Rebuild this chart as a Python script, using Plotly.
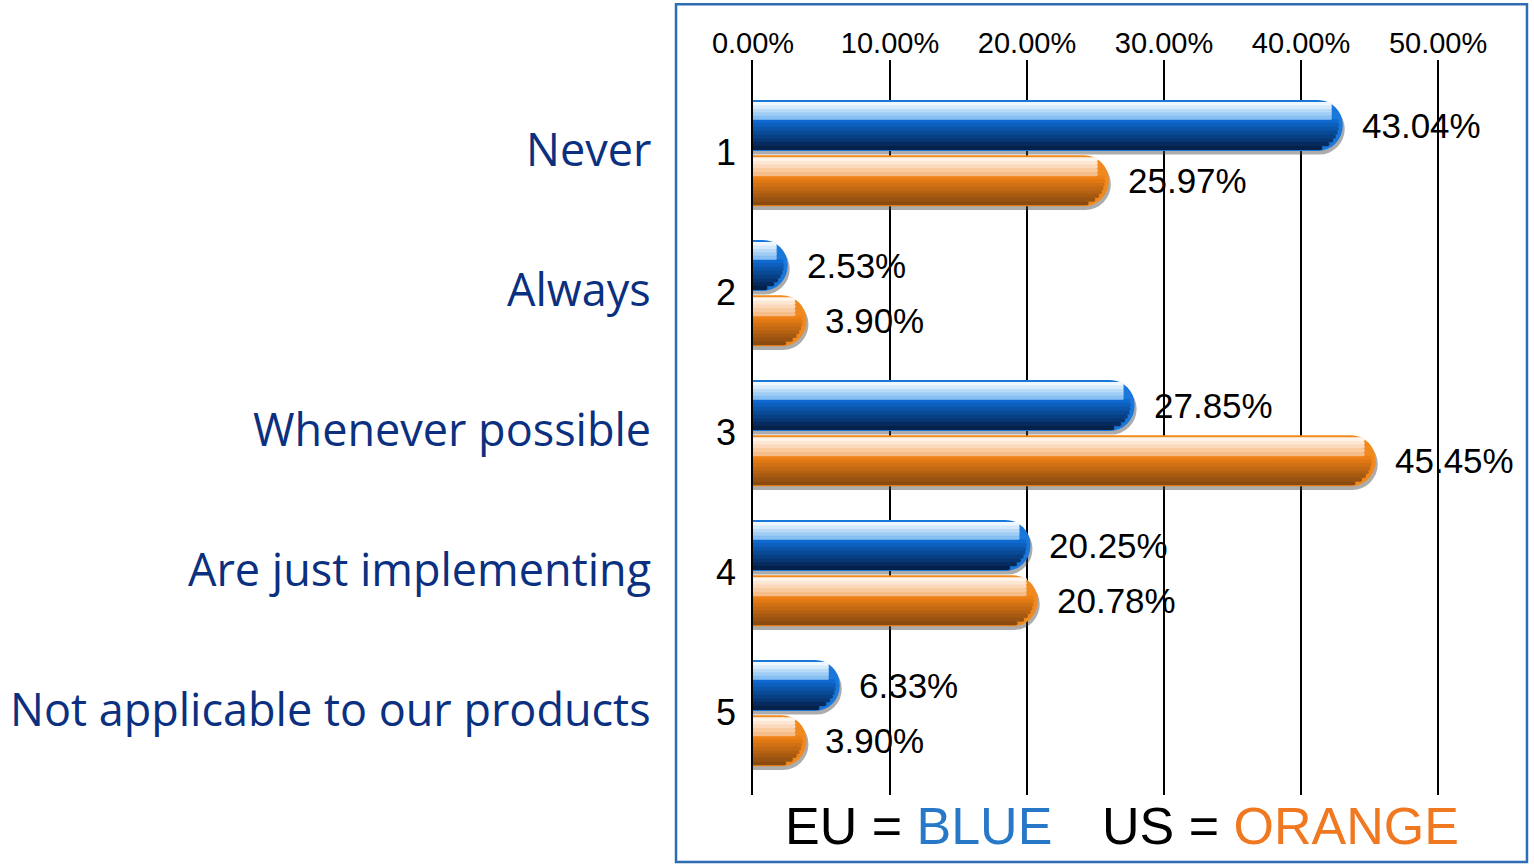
import math
import plotly.graph_objects as go

categories = [1, 2, 3, 4, 5]
category_names = ["Never", "Always", "Whenever possible", "Are just implementing",
                  "Not applicable to our products"]
eu_values = [43.04, 2.53, 27.85, 20.25, 6.33]
us_values = [25.97, 3.90, 45.45, 20.78, 3.90]
x_ticks = [0, 10, 20, 30, 40, 50]

T = 0.365          # bar thickness (category units)
BASE = -3.0        # hidden start so the left end stays square
PX_PER_X = 13.7    # pixels per percent (for styling insets)
R_PX = 25.5        # end-cap radius in px

series = [
    dict(vals=eu_values, start=-0.375, rim="#1a78da", shadow="rgba(70,70,70,0.45)",
         body=((0.38, "#0e6ad0"), (0.97, "#04214c")),
         hl=((0.04, "#eef7ff"), (0.38, "#86bff2"))),
    dict(vals=us_values, start=0.02, rim="#f08a1e", shadow="rgba(70,70,70,0.45)",
         body=((0.40, "#ee8015"), (0.97, "#8a4a10")),
         hl=((0.04, "#fff4ea"), (0.40, "#f7bd88"))),
]

fig = go.Figure()


def hex2rgb(h):
    h = h.lstrip("#")
    return [int(h[i:i + 2], 16) for i in (0, 2, 4)]


def mix(c1, c2, t):
    a, b = hex2rgb(c1), hex2rgb(c2)
    return "rgb(%d,%d,%d)" % tuple(round(a[i] + (b[i] - a[i]) * t) for i in range(3))


def add_layer(vals, a, b, color, inset, start):
    fig.add_trace(go.Bar(
        orientation="h",
        y=categories,
        x=[v - BASE - inset for v in vals],
        base=BASE,
        offset=start + a * T,
        width=(b - a) * T,
        marker=dict(color=color, line=dict(width=0)),
        hoverinfo="skip",
        showlegend=False,
    ))


def cap_inset(a, b, extra):
    d = max(abs(a - 0.5), abs(b - 0.5)) * 2 * R_PX
    d = min(d, R_PX)
    return (R_PX - math.sqrt(R_PX ** 2 - d ** 2)) / PX_PER_X + extra


NB = 8
for s in series:
    add_layer(s["vals"], 0.07, 1.07, s["shadow"], -0.15, s["start"])
    add_layer(s["vals"], 0.0, 1.0, s["rim"], 0.0, s["start"])
    (b0, cb0), (b1, cb1) = s["body"]
    for i in range(NB):
        a = b0 + (b1 - b0) * i / NB
        b = b0 + (b1 - b0) * (i + 1) / NB
        add_layer(s["vals"], a, b + 0.01, mix(cb0, cb1, i / (NB - 1)),
                  cap_inset(a, b, 0.25), s["start"])
    (h0, ch0), (h1, ch1) = s["hl"]
    NH = 5
    for i in range(NH):
        a = h0 + (h1 - h0) * i / NH
        b = h0 + (h1 - h0) * (i + 1) / NH
        add_layer(s["vals"], a, b + 0.01, mix(ch0, ch1, i / (NH - 1)),
                  0.8, s["start"])

annotations = []
for s in series:
    for cat, v in zip(categories, s["vals"]):
        annotations.append(dict(
            x=v, y=cat + s["start"] + T / 2, xref="x", yref="y",
            text=f"{v:.2f}%", showarrow=False, xanchor="left", yanchor="middle",
            xshift=17, font=dict(family="Arial", size=35, color="black")))

for cat, name in zip(categories, category_names):
    annotations.append(dict(
        x=-0.1315, y=cat - 0.03, xref="paper", yref="y", text=name,
        showarrow=False, xanchor="right", yanchor="middle",
        font=dict(family="Open Sans", size=45, color="#0b3080")))

annotations.append(dict(
    x=0.0395, y=-0.042, xref="paper", yref="paper",
    text="EU = <span style='color:#2878c8'>BLUE</span>",
    showarrow=False, xanchor="left", yanchor="middle",
    font=dict(family="Arial", size=52, color="black")))
annotations.append(dict(
    x=0.4566, y=-0.042, xref="paper", yref="paper",
    text="US = <span style='color:#f07820'>ORANGE</span>",
    showarrow=False, xanchor="left", yanchor="middle",
    font=dict(family="Arial", size=52, color="black")))

fig.update_layout(
    width=1534, height=864,
    margin=dict(l=753, r=21, t=60, b=69),
    paper_bgcolor="white", plot_bgcolor="white",
    barmode="overlay",
    barcornerradius=26,
    showlegend=False,
    annotations=annotations,
    shapes=[dict(type="rect", xref="paper", yref="paper",
                 x0=-0.1013, x1=1.0184, y0=-0.0912, y1=1.076,
                 line=dict(color="#2e6db4", width=2.5), layer="below")],
    xaxis=dict(
        range=[0, 55.47], side="top", tickvals=x_ticks,
        ticktext=[f"{t:.2f}%" for t in x_ticks],
        showgrid=True, gridcolor="black", gridwidth=1.5,
        zeroline=False, showline=False, ticks="",
        tickfont=dict(family="Arial", size=29, color="black"),
        fixedrange=True,
    ),
    yaxis=dict(
        range=[5.59, 0.34], tickvals=categories,
        ticktext=[str(c) for c in categories],
        showgrid=False, zeroline=False, showline=True,
        linecolor="black", linewidth=1.5, ticks="",
        ticklabelstandoff=8,
        tickfont=dict(family="Arial", size=36, color="black"),
        fixedrange=True,
    ),
)

fig.write_html("out.html")
